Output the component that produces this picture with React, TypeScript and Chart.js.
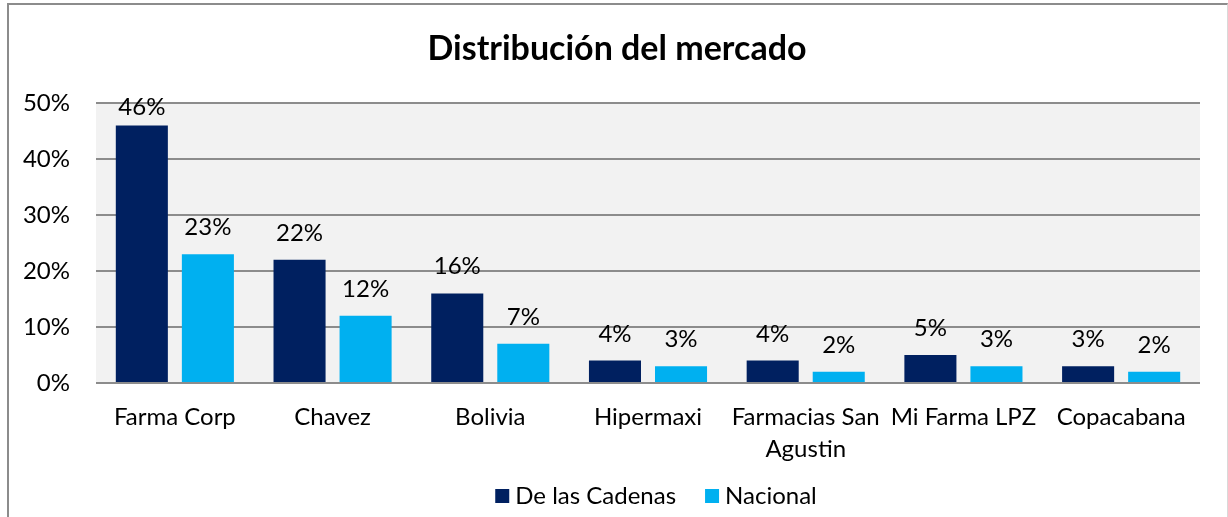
import React, { useEffect, useRef } from "react";
import { Chart, registerables } from "chart.js";

Chart.register(...registerables);

const categories: (string | string[])[] = [
  "Farma Corp",
  "Chavez",
  "Bolivia",
  "Hipermaxi",
  ["Farmacias San", "Agustin"],
  "Mi Farma LPZ",
  "Copacabana",
];
const cadenas = [46, 22, 16, 4, 4, 5, 3];
const nacional = [23, 12, 7, 3, 2, 3, 2];
const seriesNames = ["De las Cadenas", "Nacional"];
const seriesColors = ["#002060", "#00B0F0"];
const titleText = "Distribución del mercado";

const FONT = "Lato, 'Open Sans', sans-serif";

export default function App() {
  const ref = useRef<HTMLCanvasElement | null>(null);

  useEffect(() => {
    if (!ref.current) return;

    const bgPlugin = {
      id: "plotBg",
      beforeDraw(chart: any) {
        const { ctx, chartArea } = chart;
        ctx.save();
        ctx.fillStyle = "#f2f2f2";
        ctx.fillRect(chartArea.left, chartArea.top, chartArea.right - chartArea.left, chartArea.bottom - chartArea.top);
        ctx.restore();
      },
    };

    const labelPlugin = {
      id: "valueLabels",
      afterDatasetsDraw(chart: any) {
        const { ctx, chartArea } = chart;
        ctx.save();
        ctx.font = `24px ${FONT}`;
        ctx.fillStyle = "#000";
        ctx.textAlign = "center";
        ctx.textBaseline = "alphabetic";
        chart.data.datasets.forEach((ds: any, di: number) => {
          const meta = chart.getDatasetMeta(di);
          meta.data.forEach((el: any, i: number) => {
            const y = Math.max(el.y - 19, chartArea.top + 12);
            ctx.fillText(ds.data[i] + "%", el.x, y);
          });
        });
        ctx.restore();
      },
    };

    const titleLegendPlugin = {
      id: "titleLegend",
      afterDraw(chart: any) {
        const { ctx } = chart;
        ctx.save();
        ctx.fillStyle = "#000";
        ctx.font = `bold 34px ${FONT}`;
        ctx.textAlign = "center";
        ctx.textBaseline = "alphabetic";
        ctx.fillText(titleText, 617, 60);

        ctx.font = `24px ${FONT}`;
        ctx.textAlign = "left";
        ctx.textBaseline = "middle";
        const box = 14;
        const gapText = 6;
        const gapItem = 29;
        const widths = seriesNames.map((n) => ctx.measureText(n).width);
        const total = widths.reduce((a, w) => a + box + gapText + w, 0) + gapItem * (seriesNames.length - 1);
        let x = 656 - total / 2;
        const cy = 496;
        seriesNames.forEach((n, i) => {
          ctx.fillStyle = seriesColors[i];
          ctx.fillRect(x, cy - box / 2, box, box);
          ctx.fillStyle = "#000";
          ctx.fillText(n, x + box + gapText, cy);
          x += box + gapText + widths[i] + gapItem;
        });
        ctx.restore();
      },
    };

    const chart = new Chart(ref.current, {
      type: "bar",
      data: {
        labels: categories,
        datasets: [
          {
            label: seriesNames[0],
            data: cadenas,
            backgroundColor: seriesColors[0],
            categoryPercentage: 0.8376,
            barPercentage: 0.788,
          },
          {
            label: seriesNames[1],
            data: nacional,
            backgroundColor: seriesColors[1],
            categoryPercentage: 0.8376,
            barPercentage: 0.788,
          },
        ],
      },
      options: {
        responsive: false,
        animation: false,
        devicePixelRatio: 1,
        layout: { padding: { top: 103, right: 28, left: 0, bottom: 39 } },
        plugins: {
          legend: { display: false },
          title: { display: false },
          tooltip: { enabled: false },
        },
        scales: {
          x: {
            grid: { display: false, drawTicks: false },
            border: { display: false },
            ticks: {
              color: "#000",
              font: { family: FONT, size: 24, lineHeight: 1.3 },
              padding: 19,
              maxRotation: 0,
              autoSkip: false,
            },
            afterFit(scale: any) {
              scale.height = 95;
            },
          },
          y: {
            min: 0,
            max: 50,
            grid: { color: "#8c8c8c", lineWidth: 2, drawTicks: false },
            border: { display: false },
            ticks: {
              stepSize: 10,
              color: "#000",
              font: { family: FONT, size: 24 },
              padding: 26,
              callback: (v: any) => v + "%",
            },
            afterFit(scale: any) {
              scale.width = 96;
            },
          },
        },
      },
      plugins: [bgPlugin, labelPlugin, titleLegendPlugin],
    });

    return () => chart.destroy();
  }, []);

  return (
    <div style={{ position: "fixed", left: 0, top: 0, width: 1228, height: 517, overflow: "hidden", background: "#fff" }}>
      <div
        style={{
          position: "absolute",
          left: 7,
          top: 3,
          width: 1218,
          height: 600,
          borderLeft: "2px solid #8c8c8c",
          borderTop: "2px solid #8c8c8c",
          borderRight: "1px solid #d9d9d9",
        }}
      />
      <canvas ref={ref} width={1228} height={517} style={{ position: "absolute", left: 0, top: 0, width: 1228, height: 517 }} />
    </div>
  );
}
